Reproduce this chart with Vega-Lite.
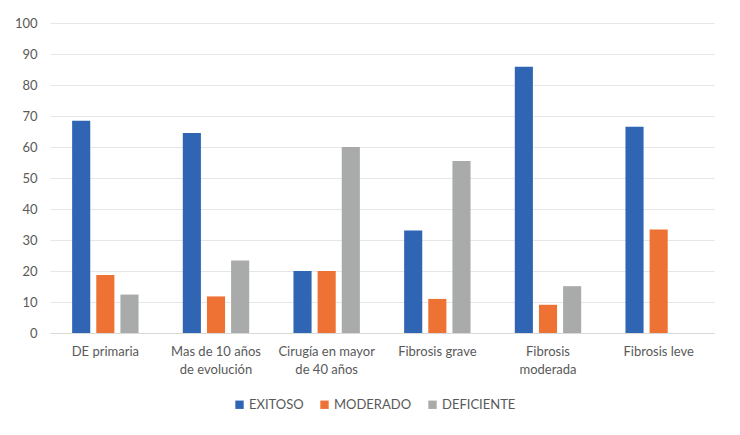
{
  "$schema": "https://vega.github.io/schema/vega-lite/v6.json",
  "width": 664,
  "height": 310,
  "autosize": {"type": "none"},
  "padding": {"left": 50, "top": 23, "right": 26, "bottom": 102},
  "background": "white",
  "data": {
    "values": [
      {"cat": "DE primaria", "serie": "EXITOSO", "v": 68.5},
      {"cat": "DE primaria", "serie": "MODERADO", "v": 18.7},
      {"cat": "DE primaria", "serie": "DEFICIENTE", "v": 12.4},
      {"cat": "Mas de 10 años de evolución", "serie": "EXITOSO", "v": 64.5},
      {"cat": "Mas de 10 años de evolución", "serie": "MODERADO", "v": 11.8},
      {"cat": "Mas de 10 años de evolución", "serie": "DEFICIENTE", "v": 23.4},
      {"cat": "Cirugía en mayor de 40 años", "serie": "EXITOSO", "v": 20},
      {"cat": "Cirugía en mayor de 40 años", "serie": "MODERADO", "v": 20},
      {"cat": "Cirugía en mayor de 40 años", "serie": "DEFICIENTE", "v": 60},
      {"cat": "Fibrosis grave", "serie": "EXITOSO", "v": 33.1},
      {"cat": "Fibrosis grave", "serie": "MODERADO", "v": 11},
      {"cat": "Fibrosis grave", "serie": "DEFICIENTE", "v": 55.5},
      {"cat": "Fibrosis moderada", "serie": "EXITOSO", "v": 85.9},
      {"cat": "Fibrosis moderada", "serie": "MODERADO", "v": 9.1},
      {"cat": "Fibrosis moderada", "serie": "DEFICIENTE", "v": 15.1},
      {"cat": "Fibrosis leve", "serie": "EXITOSO", "v": 66.5},
      {"cat": "Fibrosis leve", "serie": "MODERADO", "v": 33.4},
      {"cat": "Fibrosis leve", "serie": "DEFICIENTE", "v": 0}
    ]
  },
  "mark": {"type": "bar"},
  "encoding": {
    "x": {
      "field": "cat",
      "type": "nominal",
      "sort": null,
      "scale": {"paddingInner": 0.4, "paddingOuter": 0.2},
      "axis": {
        "title": null,
        "labelAngle": 0,
        "ticks": false,
        "domain": true,
        "domainColor": "#d9d9d9",
        "labelPadding": 12,
        "labelFont": "Lato",
        "labelFontSize": 13,
        "labelColor": "#595959",
        "labelLineHeight": 18,
        "labelExpr": "datum.value == 'Mas de 10 años de evolución' ? ['Mas de 10 años', 'de evolución'] : datum.value == 'Cirugía en mayor de 40 años' ? ['Cirugía en mayor', 'de 40 años'] : datum.value == 'Fibrosis moderada' ? ['Fibrosis', 'moderada'] : datum.value"
      }
    },
    "xOffset": {
      "field": "serie",
      "type": "nominal",
      "sort": ["EXITOSO", "MODERADO", "DEFICIENTE"],
      "scale": {"paddingInner": 0.25}
    },
    "y": {
      "field": "v",
      "type": "quantitative",
      "scale": {"domain": [0, 100]},
      "axis": {
        "title": null,
        "values": [0, 10, 20, 30, 40, 50, 60, 70, 80, 90, 100],
        "ticks": false,
        "domain": false,
        "labelPadding": 13,
        "labelFont": "Lato",
        "labelFontSize": 13,
        "labelColor": "#595959",
        "gridColor": "#e6e6e6",
        "gridWidth": 1
      }
    },
    "color": {
      "field": "serie",
      "type": "nominal",
      "sort": ["EXITOSO", "MODERADO", "DEFICIENTE"],
      "scale": {"domain": ["EXITOSO", "MODERADO", "DEFICIENTE"], "range": ["#2f65b2", "#ee7233", "#a9abab"]},
      "legend": {
        "title": null,
        "orient": "none",
        "legendX": 183,
        "legendY": 375,
        "direction": "horizontal",
        "symbolType": "square",
        "symbolSize": 70,
        "symbolStrokeWidth": 0,
        "labelFont": "Lato",
        "labelFontSize": 13,
        "labelColor": "#595959",
        "columnPadding": 14,
        "labelOffset": 3
      }
    }
  },
  "config": {"view": {"stroke": null}}
}
